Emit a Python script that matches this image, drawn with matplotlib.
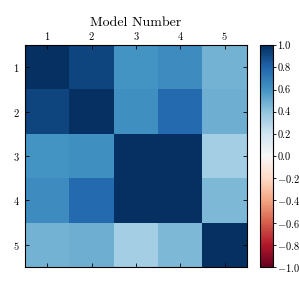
import numpy as np
import matplotlib
matplotlib.use("Agg")
import matplotlib.pyplot as plt

plt.rcParams["font.family"] = "serif"
plt.rcParams["font.serif"] = ["cmr10", "DejaVu Serif"]
plt.rcParams["mathtext.fontset"] = "cm"
plt.rcParams["axes.formatter.use_mathtext"] = True
plt.rcParams["xtick.direction"] = "in"
plt.rcParams["ytick.direction"] = "in"

# Correlation between models
models = [1, 2, 3, 4, 5]
row1 = [1.00, 0.92, 0.60, 0.63, 0.47]
row2 = [0.92, 1.00, 0.61, 0.78, 0.49]
row3 = [0.60, 0.61, 1.00, 1.00, 0.34]
row4 = [0.63, 0.78, 1.00, 1.00, 0.45]
row5 = [0.47, 0.49, 0.34, 0.45, 1.00]
corr = np.array([row1, row2, row3, row4, row5])
cbar_ticks = np.linspace(-1, 1, 11)

fig = plt.figure(figsize=(2.99, 2.97), dpi=100)
ax = fig.add_axes([0.084, 0.101, 0.742, 0.747])
cax = fig.add_axes([0.870, 0.101, 0.043, 0.747])

im = ax.imshow(corr, cmap="RdBu", vmin=-1, vmax=1, interpolation="nearest",
               extent=[0.5, 5.5, 5.5, 0.5], aspect="auto")
ax.set_xticks(models)
ax.set_yticks(models)
ax.xaxis.tick_top()
ax.tick_params(axis="x", top=True, bottom=True, labeltop=True, labelbottom=False,
               labelsize=7.5, length=3, width=0.6, pad=2)
ax.tick_params(axis="y", left=True, right=True, labelsize=7.5, length=3, width=0.6, pad=4)
ax.xaxis.set_label_position("top")
ax.set_xlabel("Model Number", fontsize=10, labelpad=3)
for s in ax.spines.values():
    s.set_linewidth(0.8)

cb = fig.colorbar(im, cax=cax, ticks=cbar_ticks)
cb.ax.tick_params(labelsize=7.5, length=2, width=0.6, direction="out", pad=1)
cb.outline.set_linewidth(0.8)
cb.ax.set_yticklabels(["$%.1f$" % v if v < 0 else "%.1f" % abs(v) for v in cbar_ticks])

fig.savefig("out.png", dpi=100)
